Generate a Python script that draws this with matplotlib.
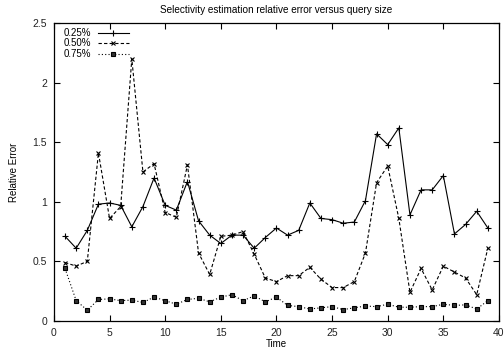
import numpy as np
import matplotlib
matplotlib.use("Agg")
import matplotlib.pyplot as plt

plt.rcParams['font.family'] = ['Liberation Sans', 'DejaVu Sans']

# values
time = list(range(1, 40))
err_025 = [0.71, 0.61, 0.76, 0.98, 0.99, 0.97, 0.79, 0.96, 1.20, 0.97,
           0.93, 1.17, 0.84, 0.72, 0.65, 0.72, 0.72, 0.61, 0.70, 0.78,
           0.72, 0.76, 0.99, 0.86, 0.85, 0.82, 0.83, 1.01, 1.57, 1.48,
           1.62, 0.89, 1.10, 1.10, 1.22, 0.73, 0.81, 0.92, 0.78]
err_050 = [0.49, 0.46, 0.50, 1.41, 0.86, 0.96, 2.20, 1.25, 1.32, 0.91,
           0.87, 1.31, 0.57, 0.39, 0.71, 0.72, 0.75, 0.56, 0.36, 0.33,
           0.38, 0.38, 0.45, 0.35, 0.28, 0.28, 0.33, 0.57, 1.16, 1.30,
           0.86, 0.24, 0.44, 0.26, 0.46, 0.41, 0.36, 0.22, 0.61]
err_075 = [0.44, 0.17, 0.09, 0.18, 0.185, 0.17, 0.175, 0.155, 0.20, 0.17,
           0.14, 0.18, 0.19, 0.16, 0.20, 0.22, 0.17, 0.21, 0.16, 0.20,
           0.13, 0.12, 0.10, 0.11, 0.12, 0.095, 0.11, 0.125, 0.12, 0.14,
           0.115, 0.115, 0.12, 0.12, 0.14, 0.13, 0.135, 0.10, 0.17]
labels = ['0.25%', '0.50%', '0.75%']

fig = plt.figure(figsize=(5.04, 3.55), dpi=100)
ax = fig.add_axes([0.107, 0.096, 0.883, 0.839])

ax.plot(time, err_025, color='black', lw=0.8, marker='+', ms=4, mew=0.8,
        label=labels[0])
ax.plot(time, err_050, color='black', lw=0.8, ls=(0, (3, 2)), marker='x',
        ms=3.2, mew=0.8, label=labels[1])
ax.plot(time, err_075, color='black', lw=0.8, ls=(0, (1, 2)), marker='s',
        ms=3.0, mew=0.8, mfc='#333333', label=labels[2])

ax.set_xlim(0, 40)
ax.set_ylim(0, 2.5)
ax.set_xticks(np.arange(0, 41, 5))
ax.set_yticks([0, 0.5, 1, 1.5, 2, 2.5])
ax.set_yticklabels(['0', '0.5', '1', '1.5', '2', '2.5'])
ax.tick_params(direction='in', top=True, right=True, labelsize=7.5,
               length=4, width=0.8, pad=5, labelcolor='#222222')
for s in ax.spines.values():
    s.set_linewidth(0.9)

ax.set_xlabel('Time', fontsize=7, labelpad=1)
ax.set_ylabel('Relative Error', fontsize=7, labelpad=10)
ax.set_title('Selectivity estimation relative error versus query size',
             fontsize=7.2, pad=7)

ax.legend(loc='upper left', frameon=False, fontsize=7, markerfirst=False,
          handlelength=3.2, handletextpad=0.7, labelspacing=0.05,
          borderaxespad=0.3, borderpad=0.2, bbox_to_anchor=(0.01, 1.0))

fig.savefig('out.png', dpi=100)
